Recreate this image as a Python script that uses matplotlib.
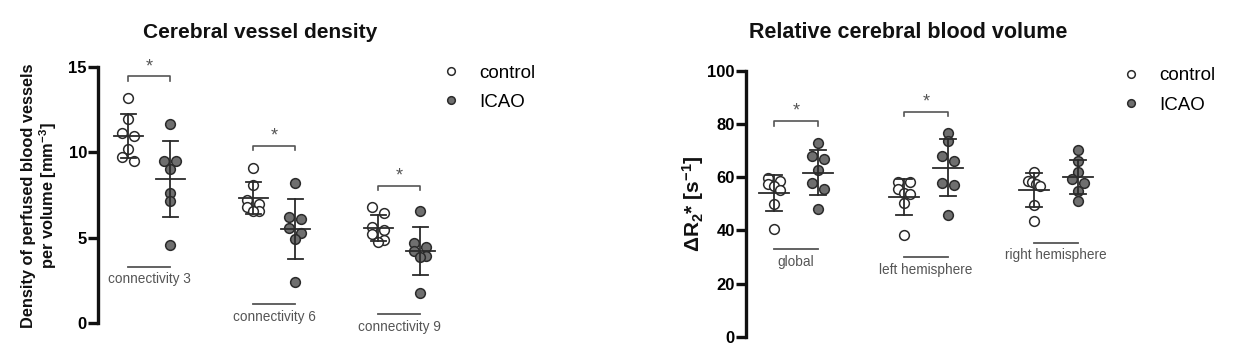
import numpy as np
import matplotlib
matplotlib.use("Agg")
import matplotlib.pyplot as plt
from matplotlib.lines import Line2D

plt.rcParams['font.family'] = ['Liberation Sans', 'DejaVu Sans']
plt.rcParams['mathtext.fontset'] = 'custom'
plt.rcParams['mathtext.rm'] = 'Liberation Sans'
plt.rcParams['mathtext.bf'] = 'Liberation Sans:bold'
plt.rcParams['mathtext.it'] = 'Liberation Sans:italic'

# ---- data ----
density_groups = ["connectivity 3", "connectivity 6", "connectivity 9"]
density_control = [
    [13.16, 11.95, 11.15, 10.96, 10.21, 9.75, 9.47],
    [9.10, 8.10, 7.20, 7.00, 6.80, 6.55, 6.60],
    [6.78, 6.43, 5.65, 5.45, 5.20, 4.90, 4.75],
]
density_icao = [
    [11.64, 9.51, 9.47, 9.04, 7.62, 7.17, 4.58],
    [8.23, 6.10, 6.22, 5.30, 5.57, 4.91, 2.40],
    [6.57, 4.71, 4.48, 4.25, 3.95, 3.86, 1.75],
]
density_sig = [True, True, True]

cbv_groups = ["global", "left hemisphere", "right hemisphere"]
cbv_control = [
    [59.8, 58.5, 57.3, 56.8, 55.3, 50.0, 40.6],
    [58.2, 58.0, 55.5, 54.2, 53.8, 50.3, 38.4],
    [61.9, 58.5, 58.0, 57.5, 56.5, 49.4, 43.4],
]
cbv_icao = [
    [72.9, 67.8, 66.8, 62.5, 57.9, 55.6, 48.1],
    [76.5, 73.5, 68.1, 66.0, 57.9, 56.9, 45.6],
    [70.0, 65.9, 61.9, 59.1, 57.9, 54.6, 50.9],
]
cbv_sig = [True, True, False]

# layout of the group labels / brackets (data units)
density_label_y = [3.3, 1.13, 0.53]
density_bracket_y = [14.45, 10.4, 8.05]
cbv_label_y = [32.9, 29.9, 35.4]
cbv_bracket_y = [81.0, 84.6, None]

DARK = "#2b2b2b"
GREY_FILL = "#6f6f6f"
TEXT_GREY = "#555555"
OFF = 0.168


def swarm(ax, x0, vals, row_px=6.5, half_px=6.0):
    # graphpad-like scatter: points at about the same height share a row
    tr = ax.transData
    order = np.argsort(vals)[::-1]
    pys = [tr.transform((x0, vals[k]))[1] for k in order]
    rows = []
    for k, py in zip(order, pys):
        if rows and abs(rows[-1][0][1] - py) < row_px:
            rows[-1].append((k, py))
        else:
            rows.append([(k, py)])
    px0 = tr.transform((x0, 0))[0]
    xs = [x0] * len(vals)
    for row in rows:
        n = len(row)
        offs = [0.0] if n == 1 else np.linspace(-half_px, half_px, n)
        for (k, py), o in zip(row, offs):
            xs[k] = tr.inverted().transform((px0 + o, py))[0]
    return xs


def draw_panel(ax, groups, ctrl, icao, sig, label_y, bracket_y, ymax, yticks):
    for i, name in enumerate(groups):
        for j, (vals, face) in enumerate([(ctrl[i], "white"), (icao[i], GREY_FILL)]):
            x0 = i + (-OFF if j == 0 else OFF)
            xs = swarm(ax, x0, vals)
            ax.plot(xs, vals, 'o', ms=7, mfc=face, mec=DARK, mew=1.1,
                    ls='none', zorder=3, clip_on=False)
            m = np.mean(vals)
            s = np.std(vals, ddof=1)
            ax.plot([x0 - 0.116, x0 + 0.116], [m, m], color=DARK, lw=1.3, zorder=4)
            ax.plot([x0, x0], [m - s, m + s], color=DARK, lw=1.3, zorder=4)
            for yy in (m - s, m + s):
                ax.plot([x0 - 0.06, x0 + 0.06], [yy, yy], color=DARK, lw=1.3, zorder=4)
        # group label
        ax.plot([i - OFF, i + OFF], [label_y[i], label_y[i]], color=TEXT_GREY, lw=1.3, clip_on=False)
        ax.annotate(name, (i, label_y[i]), xytext=(0, -4), textcoords='offset points',
                    ha='center', va='top', fontsize=9.8, color=TEXT_GREY, annotation_clip=False)
        if sig[i]:
            by = bracket_y[i]
            drop = ymax * 0.018
            ax.plot([i - OFF, i - OFF, i + OFF, i + OFF], [by - drop, by, by, by - drop],
                    color=TEXT_GREY, lw=1.2, clip_on=False)
            ax.annotate("*", (i, by), xytext=(0, 1), textcoords='offset points',
                        ha='center', va='bottom', fontsize=13, color=TEXT_GREY, annotation_clip=False)

    ax.set_ylim(0, ymax)
    ax.set_yticks(yticks)
    for sp in ['top', 'right', 'bottom']:
        ax.spines[sp].set_visible(False)
    ax.spines['left'].set_linewidth(2.4)
    ax.spines['left'].set_color("#111111")
    ax.tick_params(axis='y', length=7, width=2.4, labelsize=12, color="#111111", pad=1)
    for t in ax.get_yticklabels():
        t.set_fontweight('bold')
    ax.set_xticks([])


fig = plt.figure(figsize=(12.37, 3.52), dpi=100)
W, H = 1237.0, 352.0

# left panel: axis at x=98px, y 0 -> 323px, 15 -> 67px
ax1 = fig.add_axes([98 / W, 1 - 323.3 / H, 342 / W, (323.3 - 67) / H])
ax1.set_xlim(-0.408, 2.328)
ax1.set_ylim(0, 15)
draw_panel(ax1, density_groups, density_control, density_icao, density_sig,
           density_label_y, density_bracket_y, 15, [0, 5, 10, 15])

# right panel: axis at x=746px, y 0 -> 336.7px, 100 -> 70.7px
ax2 = fig.add_axes([746 / W, 1 - 336.7 / H, 364 / W, (336.7 - 70.7) / H])
ax2.set_xlim(-0.385, 2.415)
ax2.set_ylim(0, 100)
draw_panel(ax2, cbv_groups, cbv_control, cbv_icao, cbv_sig,
           cbv_label_y, cbv_bracket_y, 100, [0, 20, 40, 60, 80, 100])

# titles
fig.text(260 / W, 1 - 32 / H, "Cerebral vessel density", ha='center', va='center',
         fontsize=15, fontweight='bold', color="#111111")
fig.text(908 / W, 1 - 33 / H, "Relative cerebral blood volume", ha='center', va='center',
         fontsize=15.5, fontweight='bold', color="#111111")

# y labels
fig.text(40 / W, 1 - 196 / H, "Density of perfused blood vessels\nper volume [mm$^{\\mathbf{-3}}$]",
         ha='center', va='center', rotation=90, fontsize=11.8, fontweight='bold',
         color="#111111", linespacing=1.1)
fig.text(693 / W, 1 - 204 / H, "\u0394R$_{\\mathbf{2}}$* [s$^{\\mathbf{-1}}$]", ha='center', va='center',
         rotation=90, fontsize=15, fontweight='bold', color="#111111")

# legends
handles = [Line2D([], [], marker='o', ls='none', ms=5.5, mfc='white', mec=DARK, mew=1.1),
           Line2D([], [], marker='o', ls='none', ms=5.5, mfc=GREY_FILL, mec=DARK, mew=1.1)]
for (lx, ly) in [(432, 55), (1112, 58)]:
    fig.legend(handles, ["control", "ICAO"], loc='upper left',
               bbox_to_anchor=(lx / W, 1 - ly / H), frameon=False, fontsize=13.5,
               handletextpad=1.0, handlelength=1.0, labelspacing=0.65, borderpad=0)

fig.savefig("out.png", dpi=100)
